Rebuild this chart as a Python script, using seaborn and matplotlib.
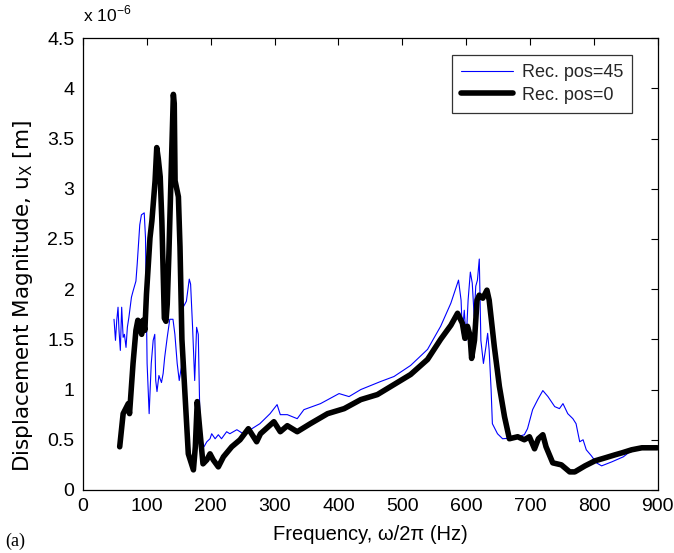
import numpy as np
import pandas as pd
import matplotlib
matplotlib.use("Agg")
import matplotlib.pyplot as plt
import seaborn as sns

# Rec. pos=45 (thin blue)  -- frequency [Hz], displacement [x1e-6 m]
freq_45 = [48.7, 51, 53, 55, 56.5, 58.6, 60.7, 63, 65, 67.5, 69.6, 72, 76, 78.5, 83, 85, 89, 91.6, 96, 98,
           99.5, 100.5, 103.7, 107, 110, 112.5, 114, 116, 119, 123, 125.6, 128, 132, 136, 141, 144, 147.6,
           150.8, 154, 157, 162, 166.5, 168.6, 171.7, 175, 178, 180.6, 183, 186, 189.5, 194, 199, 201.6,
           207, 212, 217, 225, 230, 241, 251, 262, 277, 293, 304, 309, 320, 335.5, 346, 372, 401, 416.6,
           435, 466, 487, 513, 539.5, 560, 576, 588, 592, 594, 597, 600, 603, 606.5, 609.5, 612.5, 615,
           617.6, 620.5, 623, 627, 631, 633.6, 636, 639, 641, 649, 657, 675, 691, 696, 704, 712, 720, 728,
           738.6, 746, 751.5, 759, 767, 772, 777.7, 783, 788, 796, 804, 812, 828, 846, 854, 870, 886, 899]
mag_45 = [1.70, 1.49, 1.69, 1.82, 1.59, 1.39, 1.82, 1.52, 1.55, 1.42, 1.62, 1.72, 1.92, 1.98, 2.08, 2.25,
          2.64, 2.74, 2.76, 2.51, 1.75, 1.26, 0.76, 1.26, 1.49, 1.55, 1.09, 0.98, 1.14, 1.07, 1.16, 1.32,
          1.52, 1.70, 1.70, 1.55, 1.26, 1.09, 1.22, 1.82, 1.88, 2.10, 2.05, 1.62, 1.09, 1.62, 1.55, 0.76,
          0.50, 0.43, 0.48, 0.51, 0.56, 0.51, 0.55, 0.51, 0.58, 0.56, 0.60, 0.56, 0.60, 0.66, 0.76, 0.85,
          0.75, 0.75, 0.71, 0.80, 0.86, 0.96, 0.93, 1.00, 1.08, 1.13, 1.24, 1.40, 1.63, 1.86, 2.09, 1.89,
          1.56, 1.79, 1.49, 1.89, 2.17, 2.06, 1.73, 2.03, 2.09, 2.30, 1.49, 1.26, 1.43, 1.56, 1.39, 1.00,
          0.66, 0.56, 0.51, 0.52, 0.55, 0.61, 0.80, 0.90, 0.99, 0.93, 0.83, 0.81, 0.86, 0.76, 0.71, 0.66,
          0.48, 0.50, 0.40, 0.34, 0.27, 0.24, 0.28, 0.33, 0.37, 0.41, 0.44, 0.42]

# Rec. pos=0 (thick black)
freq_0 = [57.6, 63, 71, 73, 78.5, 83, 86, 92, 94, 97, 99.5, 105, 108, 113, 115.6, 118, 121, 123.6, 127.5,
          130, 132, 134.6, 137.8, 141.6, 143, 144.3, 149.5, 152, 155, 160, 165, 173, 176, 179, 183, 188,
          194, 199, 204, 212, 220, 233, 246, 259, 272, 278, 299, 309, 320, 335.5, 356, 383, 409, 435, 461,
          487, 513, 539.5, 560, 576, 586.5, 594, 598, 602, 606, 608.5, 613, 617, 620.5, 626, 632.5, 636,
          644, 652, 660, 667.6, 680.6, 691, 699, 707, 713, 720, 725, 735.5, 749, 762, 770, 786, 801.6,
          817.5, 833, 844, 859, 875, 886, 899]
mag_0 = [0.43, 0.76, 0.86, 0.76, 1.26, 1.59, 1.69, 1.55, 1.69, 1.59, 1.95, 2.51, 2.68, 3.08, 3.41, 3.30,
         3.12, 2.68, 1.71, 1.68, 1.85, 2.35, 3.08, 3.94, 3.85, 3.08, 2.92, 2.42, 1.50, 0.93, 0.36, 0.20,
         0.43, 0.88, 0.60, 0.26, 0.30, 0.36, 0.30, 0.23, 0.33, 0.43, 0.50, 0.61, 0.48, 0.56, 0.68, 0.58,
         0.64, 0.58, 0.66, 0.76, 0.81, 0.90, 0.95, 1.05, 1.15, 1.30, 1.50, 1.64, 1.76, 1.66, 1.51, 1.63,
         1.54, 1.31, 1.49, 1.89, 1.94, 1.91, 1.99, 1.89, 1.43, 1.03, 0.73, 0.51, 0.53, 0.50, 0.53, 0.41,
         0.51, 0.55, 0.43, 0.27, 0.25, 0.18, 0.18, 0.24, 0.29, 0.32, 0.35, 0.37, 0.40, 0.42, 0.42, 0.42]

x_ticks = [0, 100, 200, 300, 400, 500, 600, 700, 800, 900]
y_ticks = [0, 0.5, 1, 1.5, 2, 2.5, 3, 3.5, 4, 4.5]
y_tick_labels = ["0", "0.5", "1", "1.5", "2", "2.5", "3", "3.5", "4", "4.5"]

sns.set_theme(style="white")
plt.rcParams["font.family"] = ["Liberation Sans", "DejaVu Sans"]
plt.rcParams["xtick.direction"] = "in"
plt.rcParams["ytick.direction"] = "in"

fig = plt.figure(figsize=(6.74, 5.53), dpi=100)
ax = fig.add_axes([0.123, 0.114, 0.853, 0.817])

df45 = pd.DataFrame({"f": freq_45, "u": mag_45})
df0 = pd.DataFrame({"f": freq_0, "u": mag_0})
sns.lineplot(data=df45, x="f", y="u", ax=ax, color="#0000ff", linewidth=0.8,
             estimator=None, sort=False, label="Rec. pos=45")
sns.lineplot(data=df0, x="f", y="u", ax=ax, color="black", linewidth=4.0,
             estimator=None, sort=False, label="Rec. pos=0")

ax.set_xlim(0, 900)
ax.set_ylim(0, 4.5)
ax.set_xticks(x_ticks)
ax.set_xticklabels([str(t) for t in x_ticks])
ax.set_yticks(y_ticks)
ax.set_yticklabels(y_tick_labels)
ax.tick_params(axis="both", which="both", labelsize=14, length=5, width=0.8, color="black",
               top=True, right=True, pad=6, labelcolor="black")
for s in ax.spines.values():
    s.set_color("black")
    s.set_linewidth(0.9)

ax.set_xlabel("Frequency, ω/2π (Hz)", fontsize=14.5, color="black", labelpad=7)
ax.set_ylabel("Displacement Magnitude, u$_\\mathregular{X}$ [m]", fontsize=15.5, color="black",
              family=["DejaVu Sans"])
ax.yaxis.set_label_coords(-0.083, 0.43)

fig.text(0.123, 0.955, "x 10$^\\mathregular{-6}$", fontsize=12.5, ha="left", va="bottom", color="black")
fig.text(0.008, 0.006, "(a)", fontsize=13, family=["Liberation Serif", "DejaVu Serif"],
         ha="left", va="bottom", color="black")

leg = ax.legend(loc="upper right", bbox_to_anchor=(0.955, 0.962), fontsize=13, frameon=True,
                fancybox=False, edgecolor="black", borderpad=0.5, handlelength=2.9,
                handletextpad=0.45, labelspacing=0.3, borderaxespad=0)
leg.get_frame().set_linewidth(0.9)

fig.savefig("out.png", dpi=100, facecolor="white")
